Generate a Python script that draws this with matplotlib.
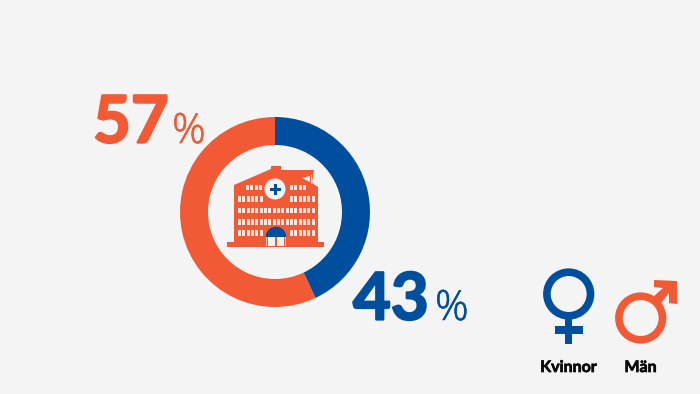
import matplotlib.pyplot as plt
import matplotlib.patheffects as pe
from matplotlib.patches import Polygon, Circle, Rectangle, Wedge

# data
shares = [43, 57]
groups = ["Kvinnor", "Män"]
share_labels = ["43", "57"]

BLUE = "#004f9f"
ORANGE = "#f15a35"
BG = "#f4f4f4"
W, H = 700, 394

fig = plt.figure(figsize=(7, 3.94), dpi=100, facecolor=BG)

# donut in its own axes
cx, cy, r = 275, 212, 95
pie_ax = fig.add_axes([(cx - r) / W, 1 - (cy + r) / H, 2 * r / W, 2 * r / H])
pie_ax.pie(
    shares,
    colors=[BLUE, ORANGE],
    startangle=90,
    counterclock=False,
    radius=1,
    wedgeprops=dict(width=28 / 95),
)
pie_ax.set_xlim(-1, 1)
pie_ax.set_ylim(-1, 1)

# overlay in pixel coordinates for icons and text
ax = fig.add_axes([0, 0, 1, 1], zorder=3)
ax.set_xlim(0, W)
ax.set_ylim(H, 0)
ax.axis("off")

# hospital
ax.add_patch(Polygon(
    [(234, 185), (271, 169), (271, 166), (281, 166), (281, 170), (288, 170),
     (314, 170), (312, 183), (318, 187), (318, 242), (324, 242), (324, 247),
     (227, 247), (227, 242), (234, 242)],
    color=ORANGE, lw=0))
ax.add_patch(Polygon([(302, 178), (310, 176), (310, 182)], color=BG, lw=0))
ax.add_patch(Rectangle((311, 175), 1.2, 9, color=BG, lw=0))

win_w, win_step = 3.1, 4.3
rows = [
    (184.5, 5.5, [(246, 4), (290, 4)]),
    (196, 5.5, [(238, 6), (290, 6)]),
    (207.5, 5.5, [(238, 6), (264, 6), (290, 6)]),
    (219, 5.5, [(238, 6), (264, 6), (290, 6)]),
    (230, 5.5, [(238, 6), (290, 6)]),
]
for y, h, blocks in rows:
    for x0, n in blocks:
        for i in range(n):
            ax.add_patch(Rectangle((x0 + i * win_step, y), win_w, h, color="#fbe6df", lw=0))

ax.add_patch(Circle((275, 189), 10.5, color=BG, lw=0))
ax.add_patch(Rectangle((270, 187.7), 11, 3.2, color=BLUE, lw=0))
ax.add_patch(Rectangle((273.8, 183.7), 3.2, 11, color=BLUE, lw=0))

# door
ax.add_patch(Wedge((276, 237), 10.3, 180, 360, color=BLUE, lw=0))
ax.add_patch(Rectangle((268.3, 237), 6.2, 9, color=BG, lw=0))
ax.add_patch(Rectangle((277.3, 237), 6.2, 9, color=BG, lw=0))
ax.add_patch(Rectangle((266, 237), 1.2, 9, color="#f9c9b8", lw=0))
ax.add_patch(Rectangle((284.8, 237), 1.2, 9, color="#f9c9b8", lw=0))

# female symbol
ax.add_patch(Circle((568.7, 294), 21.8, fill=False, ec=BLUE, lw=5.5))
ax.add_patch(Rectangle((565, 318), 7.4, 26, color=BLUE, lw=0))
ax.add_patch(Rectangle((555, 326), 28, 8, color=BLUE, lw=0))

# male symbol
ax.add_patch(Circle((640.7, 318), 21.8, fill=False, ec=ORANGE, lw=5.5))
ax.add_patch(Polygon(
    [(654, 280), (677, 281), (677, 304), (669, 303), (669, 293), (661, 303),
     (653, 297), (663, 288), (654, 287)],
    color=ORANGE, lw=0))


def fat(color, width):
    return [pe.withStroke(linewidth=width, foreground=color)]


# labels
big = dict(family="Lato", weight="bold", fontsize=47, ha="left", va="baseline")
pct = dict(family="Open Sans", weight="light", fontsize=30, ha="left", va="baseline")
ax.text(93, 142.5, share_labels[1], color=ORANGE, path_effects=fat(ORANGE, 1.6), **big)
ax.text(172, 143, "%", color=ORANGE, path_effects=fat(ORANGE, 0.4), **pct)
ax.text(353, 319.5, share_labels[0], color=BLUE, path_effects=fat(BLUE, 1.6), **big)
ax.text(435, 320, "%", color=BLUE, path_effects=fat(BLUE, 0.4), **pct)

small = dict(family="Lato", weight="bold", fontsize=11.5, color="#0a0a0a", ha="center", va="baseline")
ax.text(568.5, 372, groups[0], path_effects=fat("#0a0a0a", 0.5), **small)
ax.text(640.5, 372, groups[1], path_effects=fat("#0a0a0a", 0.5), **small)

fig.savefig("out.png", dpi=100, facecolor=BG)
